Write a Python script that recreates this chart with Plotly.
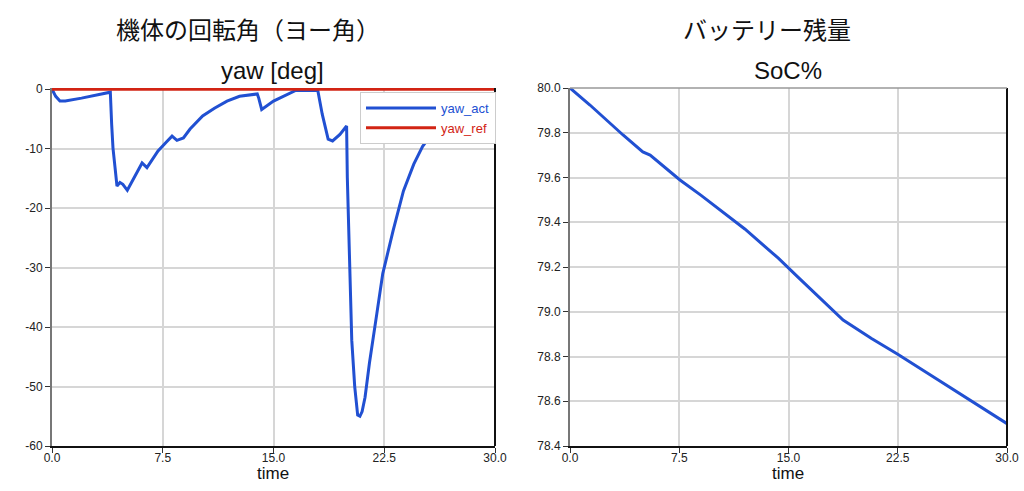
import plotly.graph_objects as go

# ---- data ----
yaw_time = [0, 0.25, 0.54, 0.9, 2.0, 3.0, 3.85, 3.95, 4.04, 4.13, 4.27, 4.4, 4.6, 4.8, 5.1,
            5.6, 6.1, 6.43, 6.8, 7.18, 7.7, 8.13, 8.46, 8.9, 9.35, 10.2, 11.0, 11.85, 12.7,
            13.9, 14.0, 14.2, 15.0, 15.8, 16.5, 18.0, 18.3, 18.7, 19.0, 19.5, 19.95, 20.0,
            20.2, 20.3, 20.5, 20.7, 20.85, 21.0, 21.2, 21.5, 22.0, 22.4, 23.1, 23.8, 24.5,
            25.1, 26.0, 27.0, 28.0, 29.0, 30.0]
yaw_act = [0, -1.2, -2.0, -2.0, -1.5, -1.0, -0.5, -0.5, -5.9, -9.9, -13.2, -16.3, -15.7, -16.0,
           -17.0, -14.8, -12.4, -13.2, -11.8, -10.4, -9.0, -7.9, -8.6, -8.2, -6.7, -4.5, -3.2,
           -2.0, -1.2, -0.8, -1.5, -3.4, -2.0, -1.0, -0.2, -0.2, -4.2, -8.4, -8.7, -7.6, -6.2,
           -14.9, -34.4, -42.2, -50.0, -54.8, -55.0, -54.2, -51.8, -46.0, -37.7, -31.0, -23.8,
           -17.1, -12.6, -9.6, -6.6, -4.3, -2.8, -1.6, -0.8]
ref_time = [0, 30]
yaw_ref = [0, 0]

soc_time = [0, 1.37, 3.64, 5.0, 5.5, 7.55, 9.0, 10.5, 12.0, 13.9, 14.3, 15.65, 17.0, 18.75,
            20.7, 22.5, 24.5, 26.5, 28.5, 30]
soc = [80.0, 79.924, 79.79, 79.714, 79.70, 79.589, 79.52, 79.446, 79.37, 79.262, 79.24,
       79.155, 79.07, 78.963, 78.88, 78.81, 78.727, 78.645, 78.56, 78.50]

x_ticks = [0, 7.5, 15, 22.5, 30]
x_labels = ["0.0", "7.5", "15.0", "22.5", "30.0"]
yaw_ticks = [0, -10, -20, -30, -40, -50, -60]
yaw_labels = ["0", "-10", "-20", "-30", "-40", "-50", "-60"]
soc_ticks = [80.0, 79.8, 79.6, 79.4, 79.2, 79.0, 78.8, 78.6, 78.4]
soc_labels = ["80.0", "79.8", "79.6", "79.4", "79.2", "79.0", "78.8", "78.6", "78.4"]

W, H = 1024, 491
BLUE = "#2150d2"
RED = "#d22414"
FONT = "Liberation Sans, Arial, sans-serif"
CJK = "Noto Sans CJK JP"

def px(x):
    return x / W

def py(y):
    return 1 - y / H

fig = go.Figure()
fig.add_trace(go.Scatter(x=yaw_time, y=yaw_act, mode="lines", xaxis="x", yaxis="y",
                         line=dict(color=BLUE, width=3),
                         name=f"<span style='color:{BLUE}'>yaw_act</span>"))
fig.add_trace(go.Scatter(x=ref_time, y=yaw_ref, mode="lines", xaxis="x", yaxis="y",
                         line=dict(color=RED, width=3),
                         name=f"<span style='color:{RED}'>yaw_ref</span>"))
fig.add_trace(go.Scatter(x=soc_time, y=soc, mode="lines", xaxis="x2", yaxis="y2",
                         line=dict(color=BLUE, width=3), showlegend=False, name="SoC"))

axis_common = dict(showgrid=True, gridcolor="#d6d6d6", gridwidth=1.5, zeroline=False,
                   ticks="outside", ticklen=5, tickcolor="#333", tickwidth=1,
                   tickfont=dict(family=FONT, size=12, color="#222"), showline=True,
                   automargin=False)

fig.update_layout(
    width=W, height=H, margin=dict(l=0, r=0, t=0, b=0, autoexpand=False),
    paper_bgcolor="white", plot_bgcolor="white",
    xaxis=dict(domain=[px(52), px(495)], anchor="y", range=[0, 30], tickvals=x_ticks,
               ticktext=x_labels, linecolor="#111", linewidth=2, ticklabelstandoff=-5,
               **axis_common),
    yaxis=dict(domain=[py(446), py(88)], anchor="x", range=[-60, 0.2], tickvals=yaw_ticks,
               ticktext=yaw_labels, linecolor="#777", linewidth=2, **axis_common),
    xaxis2=dict(domain=[px(570), px(1007)], anchor="y2", range=[0, 30], tickvals=x_ticks,
                ticktext=x_labels, linecolor="#111", linewidth=2, ticklabelstandoff=-5,
                ticklabeloverflow="allow", **axis_common),
    yaxis2=dict(domain=[py(446), py(88)], anchor="x2", range=[78.4, 80.0], tickvals=soc_ticks,
                ticktext=soc_labels, linecolor="#777", linewidth=2, **axis_common),
    legend=dict(x=px(360), y=py(92), xanchor="left", yanchor="top", bgcolor="white",
                bordercolor="#cccccc", borderwidth=1, itemwidth=70,
                font=dict(family=FONT, size=13), tracegroupgap=0),
    showlegend=True,
)

# borders (right: black, top: gray)
for xr, yr in (("x domain", "y domain"), ("x2 domain", "y2 domain")):
    fig.add_shape(type="line", xref=xr, yref=yr, x0=1, x1=1, y0=0, y1=1,
                  line=dict(color="#111", width=2))
fig.add_shape(type="line", xref="x2 domain", yref="y2 domain", x0=0, x1=1, y0=1, y1=1,
              line=dict(color="#999", width=1.5))

annos = [
    ("機体の回転角（ヨー角）", 248, 28, CJK, 24),
    ("バッテリー残量", 767, 28, CJK, 24),
    ("yaw [deg]", 272, 70, FONT, 24),
    ("SoC%", 788, 70, FONT, 24),
    ("time", 273, 473, FONT, 17),
    ("time", 788, 473, FONT, 17),
]
for text, x, y, fam, size in annos:
    fig.add_annotation(text=text, x=px(x), y=py(y), xref="paper", yref="paper",
                       xanchor="center", yanchor="middle", showarrow=False,
                       font=dict(family=fam, size=size, color="#111"))

fig.write_html("out.html", config={"displayModeBar": False},
               post_script="document.body.style.margin='0px';")
